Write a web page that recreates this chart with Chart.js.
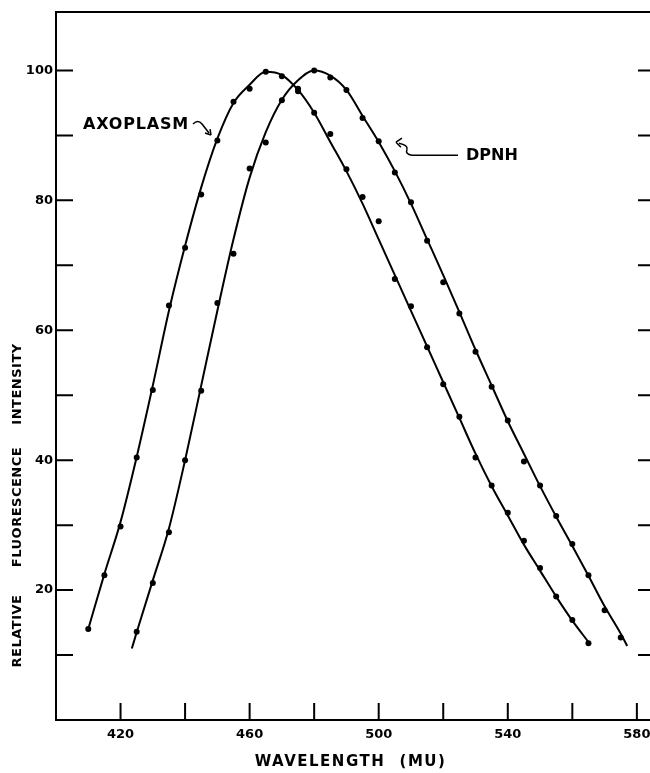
<!DOCTYPE html>
<html>
<head>
<meta charset="utf-8">
<script src="https://cdn.jsdelivr.net/npm/chart.js@4.4.1/dist/chart.umd.min.js"></script>
<style>
    html, body { margin: 0; padding: 0; background: #fff; overflow: hidden; }
    #wrap { width: 660px; height: 773px; }
</style>
</head>
<body>
<div id="wrap"><canvas id="chart" width="660" height="773"></canvas></div>
<script>
// measured points, every 5 mu
const axoplasmWavelengths = [410, 415, 420, 425, 430, 435, 440, 445, 450, 455, 460, 465, 470, 475, 480, 485,
    490, 495, 500, 505, 510, 515, 520, 525, 530, 535, 540, 545, 550, 555, 560, 565];
const axoplasmValues = [14.0, 22.3, 29.8, 40.4, 50.8, 63.8, 72.7, 80.9, 89.2, 95.2, 97.2, 99.8, 99.1, 96.8, 93.5, 90.2,
    84.8, 80.5, 76.8, 67.9, 63.7, 57.4, 51.7, 46.7, 40.4, 36.1, 31.9, 27.6, 23.4, 19.0, 15.4, 11.8];

const dpnhWavelengths = [425, 430, 435, 440, 445, 450, 455, 460, 465, 470, 475, 480, 485, 490, 495, 500,
    505, 510, 515, 520, 525, 530, 535, 540, 545, 550, 555, 560, 565, 570, 575];
const dpnhValues = [13.6, 21.1, 28.9, 40.0, 50.7, 64.2, 71.8, 84.9, 88.9, 95.4, 97.2, 100, 98.9, 97.0, 92.7, 89.1,
    84.3, 79.7, 73.8, 67.4, 62.6, 56.7, 51.3, 46.1, 39.8, 36.1, 31.4, 27.1, 22.3, 16.9, 12.7];

// drawn (fitted) curves
const axoplasmCurveX = [410, 415, 420, 425, 430, 435, 440, 445, 450, 455, 460, 465, 470, 475, 480, 485,
    490, 495, 500, 505, 510, 515, 520, 525, 530, 535, 540, 545, 550, 555, 560, 565];
const axoplasmCurveY = [14, 22.5, 30.5, 40.5, 51.5, 63, 73, 82, 89.5, 95, 97.8, 99.8, 99.3, 97, 93.5, 89,
    84.5, 79.5, 74, 68.5, 63, 57.5, 52, 46.5, 41, 36, 31.5, 27, 23, 19, 15.3, 12];

const dpnhCurveX = [423.5, 425, 430, 435, 440, 445, 450, 455, 460, 465, 470, 475, 480, 485, 490, 495, 500,
    505, 510, 515, 520, 525, 530, 535, 540, 545, 550, 555, 560, 565, 570, 575, 577];
const dpnhCurveY = [11, 13.5, 21.5, 29.5, 40, 51.5, 63, 74, 83.5, 90.5, 95.5, 98.5, 100, 99.2, 97, 93, 89,
    84.5, 79.5, 74, 68.5, 62.8, 57, 51.5, 46, 41, 36, 31.3, 26.8, 22.2, 17.5, 13.3, 11.4];

// axis ticks
const xTickValues = [420, 440, 460, 480, 500, 520, 540, 560, 580];
const xTickLabels = [420, 460, 500, 540, 580];
const yTickValues = [10, 20, 30, 40, 50, 60, 70, 80, 90, 100];
const yTickLabels = [20, 40, 60, 80, 100];

const FONT = '"DejaVu Sans", sans-serif';

function toXY(xs, ys) {
    return xs.map((x, i) => ({ x: x, y: ys[i] }));
}

// frame, inward ticks, axis titles and the two curve labels
const decorations = {
    id: 'decorations',
    afterDraw(chart) {
        const { ctx, chartArea: a, scales } = chart;
        const x = scales.x, y = scales.y;
        ctx.save();
        ctx.strokeStyle = '#000';
        ctx.lineWidth = 2;
        ctx.beginPath();
        ctx.moveTo(a.left - 1, a.top);
        ctx.lineTo(a.right, a.top);
        ctx.lineTo(a.right, a.bottom);
        yTickValues.forEach(v => {
            const py = y.getPixelForValue(v);
            ctx.moveTo(a.left, py); ctx.lineTo(a.left + 17, py);
            ctx.moveTo(a.right, py); ctx.lineTo(a.right - 15, py);
        });
        xTickValues.forEach(v => {
            const px = x.getPixelForValue(v);
            ctx.moveTo(px, a.bottom); ctx.lineTo(px, a.bottom - 17);
        });
        ctx.stroke();

        ctx.fillStyle = '#000';
        ctx.textBaseline = 'middle';
        ctx.textAlign = 'center';

        // x title
        ctx.font = 'bold 15px ' + FONT;
        ctx.letterSpacing = '1.5px';
        ctx.fillText('WAVELENGTH', a.left + 264, a.bottom + 42);
        ctx.fillText('(MU)', a.left + 367, a.bottom + 42);

        // y title (rotated)
        ctx.save();
        ctx.translate(18, a.bottom - 213);
        ctx.rotate(-Math.PI / 2);
        ctx.font = 'bold 13px ' + FONT;
        ctx.letterSpacing = '0.5px';
        ctx.fillText('RELATIVE', -124, 0);
        ctx.fillText('FLUORESCENCE', 0, 0);
        ctx.fillText('INTENSITY', 123, 0);
        ctx.restore();

        // curve labels
        ctx.font = 'bold 16px ' + FONT;
        ctx.letterSpacing = '0.8px';
        const ax = x.getPixelForValue(424.8), ay = y.getPixelForValue(91.6);
        ctx.fillText('AXOPLASM', ax, ay);
        const dx = x.getPixelForValue(535.1), dy = y.getPixelForValue(86.8);
        ctx.letterSpacing = '0px';
        ctx.fillText('DPNH', dx, dy);

        ctx.lineWidth = 1.5;
        ctx.beginPath();
        // little squiggle arrow after AXOPLASM
        ctx.moveTo(ax + 57, ay - 1);
        ctx.quadraticCurveTo(ax + 62, ay - 6, ax + 66, ay - 1);
        ctx.quadraticCurveTo(ax + 69, ay + 3, ax + 73, ay + 8);
        ctx.moveTo(ax + 75, ay + 10);
        ctx.lineTo(ax + 69, ay + 8);
        ctx.moveTo(ax + 75, ay + 10);
        ctx.lineTo(ax + 74, ay + 4);
        // leader to DPNH curve
        ctx.moveTo(dx - 34, dy - 1);
        ctx.lineTo(dx - 80, dy - 1);
        ctx.quadraticCurveTo(dx - 87, dy - 2, dx - 85, dy - 7);
        ctx.quadraticCurveTo(dx - 84, dy - 11, dx - 93, dy - 13);
        ctx.moveTo(dx - 96, dy - 14);
        ctx.lineTo(dx - 90, dy - 18);
        ctx.moveTo(dx - 96, dy - 14);
        ctx.lineTo(dx - 91, dy - 9);
        ctx.stroke();
        ctx.restore();
    }
};

const ctx = document.getElementById('chart').getContext('2d');
new Chart(ctx, {
    type: 'scatter',
    data: {
        datasets: [
            {
                label: 'Axoplasm curve',
                data: toXY(axoplasmCurveX, axoplasmCurveY),
                showLine: true,
                cubicInterpolationMode: 'monotone',
                borderColor: '#000',
                borderWidth: 2,
                pointRadius: 0
            },
            {
                label: 'DPNH curve',
                data: toXY(dpnhCurveX, dpnhCurveY),
                showLine: true,
                cubicInterpolationMode: 'monotone',
                borderColor: '#000',
                borderWidth: 2,
                pointRadius: 0
            },
            {
                label: 'Axoplasm',
                data: toXY(axoplasmWavelengths, axoplasmValues),
                pointRadius: 3,
                pointBackgroundColor: '#000',
                pointBorderColor: '#000',
                borderWidth: 0
            },
            {
                label: 'DPNH',
                data: toXY(dpnhWavelengths, dpnhValues),
                pointRadius: 3,
                pointBackgroundColor: '#000',
                pointBorderColor: '#000',
                borderWidth: 0
            }
        ]
    },
    options: {
        responsive: false,
        animation: false,
        events: [],
        layout: { padding: { top: 12, right: 7, left: 0, bottom: 0 } },
        plugins: {
            legend: { display: false },
            tooltip: { enabled: false }
        },
        scales: {
            x: {
                type: 'linear',
                min: 400,
                max: 585,
                afterBuildTicks(scale) { scale.ticks = xTickValues.map(v => ({ value: v })); },
                afterFit(scale) { scale.height = 53; },
                grid: { display: false, drawTicks: false },
                border: { display: true, color: '#000', width: 2 },
                ticks: {
                    autoSkip: false,
                    maxRotation: 0,
                    padding: 7,
                    color: '#000',
                    font: { family: FONT, size: 13, weight: 'bold' },
                    callback: v => xTickLabels.includes(v) ? String(v) : ''
                }
            },
            y: {
                min: 0,
                max: 109,
                afterBuildTicks(scale) { scale.ticks = yTickValues.map(v => ({ value: v })); },
                afterFit(scale) { scale.width = 56; },
                grid: { display: false, drawTicks: false },
                border: { display: true, color: '#000', width: 2 },
                ticks: {
                    autoSkip: false,
                    padding: 3,
                    color: '#000',
                    font: { family: FONT, size: 13, weight: 'bold' },
                    callback: v => yTickLabels.includes(v) ? String(v) : ''
                }
            }
        }
    },
    plugins: [decorations]
});
</script>
</body>
</html>
